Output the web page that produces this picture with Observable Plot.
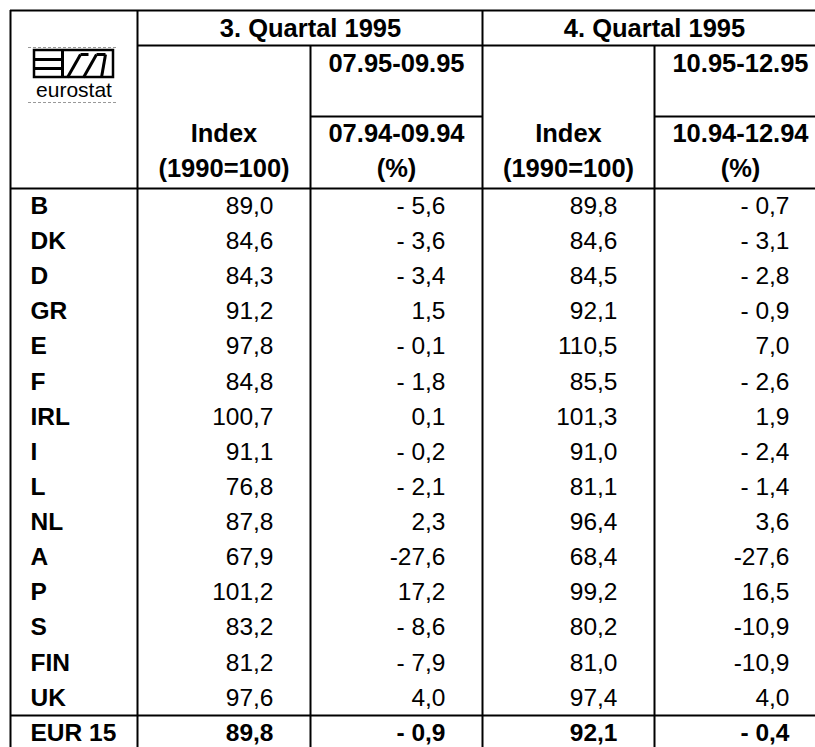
<!DOCTYPE html>
<html>
<head>
<meta charset="utf-8">
<script src="https://cdn.jsdelivr.net/npm/d3@7"></script>
<script src="https://cdn.jsdelivr.net/npm/@observablehq/plot@0.6"></script>
<style>
  html, body { margin: 0; padding: 0; background: #fff; }
  #chart svg { display: block; }
</style>
</head>
<body>
<div id="chart"></div>
<script>
// ---------- data ----------
const countries = ["B","DK","D","GR","E","F","IRL","I","L","NL","A","P","S","FIN","UK"];
const q3Index  = [89.0, 84.6, 84.3, 91.2, 97.8, 84.8, 100.7, 91.1, 76.8, 87.8, 67.9, 101.2, 83.2, 81.2, 97.6];
const q3Change = [-5.6, -3.6, -3.4, 1.5, -0.1, -1.8, 0.1, -0.2, -2.1, 2.3, -27.6, 17.2, -8.6, -7.9, 4.0];
const q4Index  = [89.8, 84.6, 84.5, 92.1, 110.5, 85.5, 101.3, 91.0, 81.1, 96.4, 68.4, 99.2, 80.2, 81.0, 97.4];
const q4Change = [-0.7, -3.1, -2.8, -0.9, 7.0, -2.6, 1.9, -2.4, -1.4, 3.6, -27.6, 16.5, -10.9, -10.9, 4.0];
const totalLabel = "EUR 15";
const totalValues = [89.8, -0.9, 92.1, -0.4];
const quarterLabels = ["3. Quartal 1995", "4. Quartal 1995"];
const periodLabels = ["07.95-09.95", "10.95-12.95"];
const basePeriodLabels = ["07.94-09.94", "10.94-12.94"];
const indexLabels = ["Index", "(1990=100)"];
const pctLabel = "(%)";
const logoText = "eurostat";

// ---------- layout ----------
const W = 815, H = 747;
const colEdges = [10, 137, 310, 482, 654, 826];
const headerY = [10, 45, 116, 188];
const rowH = 35.13;
const bodyTop = headerY[3];
const totalTop = bodyTop + countries.length * rowH;
const padLeft = 20, padRight = 37;
const lineW = 2;
const fontMain = 24.5, fontHead = 25.5;

const fmt = v => {
  const s = Math.abs(v).toFixed(1).replace(".", ",");
  if (v < 0) return (Math.abs(v) < 10 ? "- " : "-") + s;
  return s;
};
const colMid = i => (colEdges[i] + colEdges[i + 1]) / 2;
const rowMid = i => bodyTop + (i + 0.5) * rowH;

// horizontal rules
const hLines = [
  {y: headerY[0], x1: colEdges[0], x2: W},
  {y: headerY[1], x1: colEdges[1], x2: W},
  {y: headerY[2], x1: colEdges[2], x2: colEdges[3]},
  {y: headerY[2], x1: colEdges[4], x2: W},
  {y: headerY[3], x1: colEdges[0], x2: W},
  {y: totalTop, x1: colEdges[0], x2: W}
];
// vertical rules
const vLines = [
  {x: colEdges[0], y1: headerY[0], y2: H},
  {x: colEdges[1], y1: headerY[0], y2: H},
  {x: colEdges[2], y1: headerY[1], y2: H},
  {x: colEdges[3], y1: headerY[0], y2: H},
  {x: colEdges[4], y1: headerY[1], y2: H}
];

// header texts
const headCells = [];
quarterLabels.forEach((t, q) => headCells.push({x: colEdges[2 + 2 * q], y: (headerY[0] + headerY[1]) / 2 + 1, text: t}));
periodLabels.forEach((t, q) => headCells.push({x: colMid(2 + 2 * q), y: 63, text: t}));
basePeriodLabels.forEach((t, q) => headCells.push({x: colMid(2 + 2 * q), y: 133, text: t}));
[0, 1].forEach(q => {
  headCells.push({x: colMid(1 + 2 * q), y: 133, text: indexLabels[0]});
  headCells.push({x: colMid(1 + 2 * q), y: 168, text: indexLabels[1]});
  headCells.push({x: colMid(2 + 2 * q), y: 168, text: pctLabel});
});

// body cells
const labelCells = countries.map((c, i) => ({x: colEdges[0] + padLeft, y: rowMid(i), text: c}));
const series = [q3Index, q3Change, q4Index, q4Change];
const numCells = [];
series.forEach((s, j) => s.forEach((v, i) => numCells.push({x: colEdges[j + 2] - padRight, y: rowMid(i), text: fmt(v)})));
const totalY = totalTop + rowH / 2;
const totalCells = totalValues.map((v, j) => ({x: colEdges[j + 2] - padRight, y: totalY, text: fmt(v)}));

// logo geometry (local px)
const logoBox = {x1: 34, x2: 113, y1: 50, y2: 77};
const logoSegs = [
  {x1: 34, y1: 59, x2: 62, y2: 59},
  {x1: 34, y1: 68, x2: 62, y2: 68},
  {x1: 62, y1: 50, x2: 62, y2: 77},
  {x1: 67, y1: 77, x2: 80, y2: 54},
  {x1: 80, y1: 54, x2: 88, y2: 54},
  {x1: 83, y1: 77, x2: 96, y2: 54},
  {x1: 96, y1: 54, x2: 105, y2: 54},
  {x1: 105, y1: 54, x2: 101, y2: 77}
];
const logoDots = [{y: 47, x1: 28, x2: 118}, {y: 102, x1: 28, x2: 118}];

const chart = Plot.plot({
  width: W, height: H, margin: 0,
  x: {type: "linear", domain: [0, W], range: [0, W], axis: null},
  y: {type: "linear", domain: [0, H], range: [0, H], axis: null},
  style: {fontFamily: "'Liberation Sans', Arial, Helvetica, sans-serif", color: "#000", background: "#fff"},
  marks: [
    Plot.ruleY(logoDots, {y: "y", x1: "x1", x2: "x2", stroke: "#999", strokeWidth: 1, strokeDasharray: "3,2"}),
    Plot.rect([logoBox], {x1: "x1", x2: "x2", y1: "y1", y2: "y2", fill: "none", stroke: "#000", strokeWidth: 2.5}),
    Plot.link(logoSegs, {x1: "x1", y1: "y1", x2: "x2", y2: "y2", stroke: "#000", strokeWidth: 3}),
    Plot.text([logoText], {x: () => 73.5, y: () => 90, text: d => d, fontSize: 21, textAnchor: "middle", fill: "#000"}),
    Plot.ruleY(hLines, {y: "y", x1: "x1", x2: "x2", stroke: "#000", strokeWidth: lineW}),
    Plot.ruleX(vLines, {x: "x", y1: "y1", y2: "y2", stroke: "#000", strokeWidth: lineW}),
    Plot.text(headCells, {x: "x", y: "y", text: "text", fontSize: fontHead, fontWeight: "bold", textAnchor: "middle", fill: "#000"}),
    Plot.text(labelCells, {x: "x", y: "y", text: "text", fontSize: fontMain, fontWeight: "bold", textAnchor: "start", fill: "#000"}),
    Plot.text([{x: colEdges[0] + padLeft, y: totalY, text: totalLabel}], {x: "x", y: "y", text: "text", fontSize: fontMain, fontWeight: "bold", textAnchor: "start", fill: "#000"}),
    Plot.text(numCells, {x: "x", y: "y", text: "text", fontSize: fontMain, textAnchor: "end", fill: "#000"}),
    Plot.text(totalCells, {x: "x", y: "y", text: "text", fontSize: fontMain, fontWeight: "bold", textAnchor: "end", fill: "#000"})
  ]
});
document.getElementById("chart").appendChild(chart);
</script>
</body>
</html>
